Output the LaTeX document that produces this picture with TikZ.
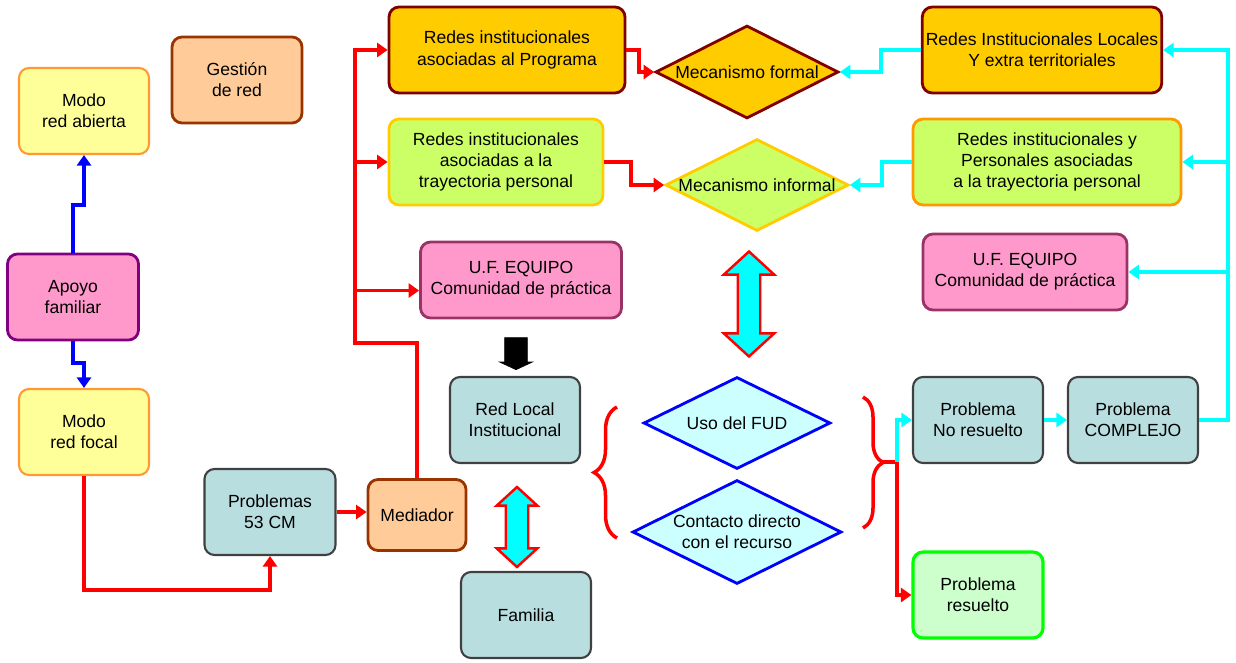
\documentclass[tikz,border=0pt]{standalone}
\usepackage{fontspec}
\setmainfont{Liberation Sans}
\usetikzlibrary{shapes.geometric,shapes.arrows,arrows.meta,decorations.pathreplacing}

\definecolor{modofill}{HTML}{FFFF99}
\definecolor{modoline}{HTML}{FF9933}
\definecolor{peachfill}{HTML}{FFCC99}
\definecolor{brownline}{HTML}{993300}
\definecolor{pinkfill}{HTML}{FF99CC}
\definecolor{purpleline}{HTML}{800080}
\definecolor{plumline}{HTML}{993366}
\definecolor{goldfill}{HTML}{FFCC00}
\definecolor{maroonline}{HTML}{800000}
\definecolor{greenfill}{HTML}{CCFF66}
\definecolor{orangeline}{HTML}{FF9900}
\definecolor{slatefill}{HTML}{B9DEE0}
\definecolor{slateline}{HTML}{404040}
\definecolor{icefill}{HTML}{CCFFFF}
\definecolor{mintfill}{HTML}{CCFFCC}
\definecolor{aqua}{HTML}{00FFFF}
\definecolor{pureblue}{HTML}{0000FF}
\definecolor{purered}{HTML}{FF0000}
\definecolor{puregreen}{HTML}{00FF00}

\tikzset{
  box/.style={rectangle, rounded corners=0.2cm, line width=1.6pt, align=center,
    minimum width=2.6cm, minimum height=1.72cm, inner sep=2pt},
  modobox/.style={box, fill=modofill, draw=modoline, line width=1.2pt},
  gestionbox/.style={box, fill=peachfill, draw=brownline},
  apoyobox/.style={box, fill=pinkfill, draw=purpleline},
  equipobox/.style={box, fill=pinkfill, draw=plumline},
  goldbox/.style={box, fill=goldfill, draw=maroonline},
  greenbox/.style={box, fill=greenfill, draw=goldfill},
  slatebox/.style={box, fill=slatefill, draw=slateline, line width=1.2pt},
  mintbox/.style={box, fill=mintfill, draw=puregreen, line width=1.8pt},
  diam/.style={diamond, inner sep=0pt, line width=1.6pt},
  redln/.style={draw=purered, line width=2.2pt, -{Triangle[length=6pt,width=8pt]}},
  blueln/.style={draw=pureblue, line width=2.2pt, -{Triangle[length=6pt,width=8pt]}},
  cyanln/.style={draw=aqua, line width=2.2pt, -{Triangle[length=6pt,width=8pt]}},
  bracered/.style={draw=purered, line width=2pt, decorate},
  twoway/.style={double arrow, draw=purered, fill=aqua, line width=1.4pt, inner sep=0.2cm,
    shape border rotate=90, double arrow tip angle=95},
}

\begin{document}
\begin{tikzpicture}[x=0.02cm, y=-0.02cm]
  \useasboundingbox (0,0) rectangle (1236,662);

  % left column
  \node[modobox] (abierta) at (84,111) {Modo\\red abierta};
  \node[gestionbox] (gestion) at (237,80) {Gestión\\de red};
  \node[apoyobox, minimum width=2.62cm] (apoyo) at (73,297) {Apoyo\\familiar};
  \node[modobox] (focal) at (84,432) {Modo\\red focal};
  \node[slatebox, minimum width=2.62cm] (problemas) at (270,512) {Problemas\\53 CM};
  \node[gestionbox, minimum width=1.96cm, minimum height=1.42cm] (mediador) at (417,515) {Mediador};

  % middle
  \node[goldbox, minimum width=4.72cm] (redprog) at (507,50) {Redes institucionales\\asociadas al Programa};
  \node[greenbox, minimum width=4.28cm] (redtray) at (496,162) {Redes institucionales\\asociadas a la\\trayectoria personal};
  \node[equipobox, minimum width=4.02cm, minimum height=1.52cm] (equipoL) at (521,280) {U.F. EQUIPO\\Comunidad de práctica};
  \node[single arrow, draw=black, fill=black, shape border rotate=270, inner sep=0.22cm,
    minimum height=0.64cm, minimum width=0.64cm, single arrow head extend=0.1cm,
    single arrow tip angle=130] (pointer) at (516,351) {};
  \node[slatebox] (redlocal) at (515,420) {Red Local\\Institucional};
  \node[twoway, minimum height=1.6cm, minimum width=0.76cm, double arrow head extend=0.18cm] (twoshort) at (517,527) {};
  \node[slatebox] (familia) at (526,615) {Familia};

  % diamonds
  \node[diam, fill=goldfill, draw=maroonline, minimum width=3.66cm, minimum height=1.86cm,
    label={center:Mecanismo formal}] (formal) at (747,72) {};
  \node[diam, fill=greenfill, draw=goldfill, minimum width=3.66cm, minimum height=1.84cm,
    label={center:Mecanismo informal}] (informal) at (757,185) {};
  \node[twoway, minimum height=2.1cm, minimum width=0.96cm, double arrow head extend=0.28cm] (twolong) at (749,304) {};
  \node[diam, fill=icefill, draw=pureblue, minimum width=3.74cm, minimum height=1.84cm,
    label={center:Uso del FUD}] (fud) at (737,423) {};
  \node[diam, fill=icefill, draw=pureblue, minimum width=4.18cm, minimum height=2.08cm,
    label={[align=center]center:{Contacto directo\\con el recurso}}] (contacto) at (737,532) {};

  % right column
  \node[goldbox, minimum width=4.76cm] (redloc) at (1042,50) {Redes Institucionales Locales\\Y extra territoriales};
  \node[greenbox, draw=orangeline, minimum width=5.36cm] (redpers) at (1047,162) {Redes institucionales y\\Personales asociadas\\a la trayectoria personal};
  \node[equipobox, minimum width=4.08cm, minimum height=1.52cm] (equipoR) at (1025,272) {U.F. EQUIPO\\Comunidad de práctica};
  \node[slatebox] (noresuelto) at (978,420) {Problema\\No resuelto};
  \node[slatebox] (complejo) at (1133,420) {Problema\\COMPLEJO};
  \node[mintbox] (resuelto) at (978,595) {Problema\\resuelto};

  % braces
  \draw[bracered, decoration={brace, amplitude=0.46cm}] (617,538) -- (617,407);
  \draw[bracered, decoration={brace, amplitude=0.4cm}] (863,397) -- (863,528);
  \coordinate (rtip) at (883,462);
  \coordinate (split) at (897,462);

  % connectors
  \draw[blueln] (apoyo.north) -- ++(0,-48) -| (abierta.south);
  \draw[blueln] (apoyo.south) -- ++(0,22) -| (focal.north);
  \draw[redln] (focal.south) -- ++(0,114) -| (problemas.south);
  \draw[redln] (problemas.east) -- (problemas.east -| mediador.west);
  \coordinate (bus) at (355,343);
  \draw[redln] (mediador.north) |- (bus) |- (redprog.west);
  \draw[redln] (bus) |- (redtray.west);
  \draw[redln] (bus) |- ([yshift=-6]equipoL.west);
  \draw[redln] (redprog.east) -- ++(13,0) |- (formal.west);
  \draw[redln] (redtray.east) -- ++(27,0) |- (informal.west);
  \draw[cyanln] (redloc.west) -- ++(-40,0) |- (formal.east);
  \draw[cyanln] (redpers.west) -- ++(-30,0) |- (informal.east);
  \coordinate (cright) at (1228,420);
  \draw[cyanln] (complejo.east) -- (cright) |- (redloc.east);
  \draw[cyanln] (cright) |- (redpers.east);
  \draw[cyanln] (cright) |- (equipoR.east);
  \draw[cyanln] (noresuelto.east) -- (complejo.west);
  \draw[purered, line width=2.2pt] (rtip) -- (split);
  \draw[cyanln] (split) |- (noresuelto.west);
  \draw[redln] (split) |- (resuelto.west);
\end{tikzpicture}
\end{document}
